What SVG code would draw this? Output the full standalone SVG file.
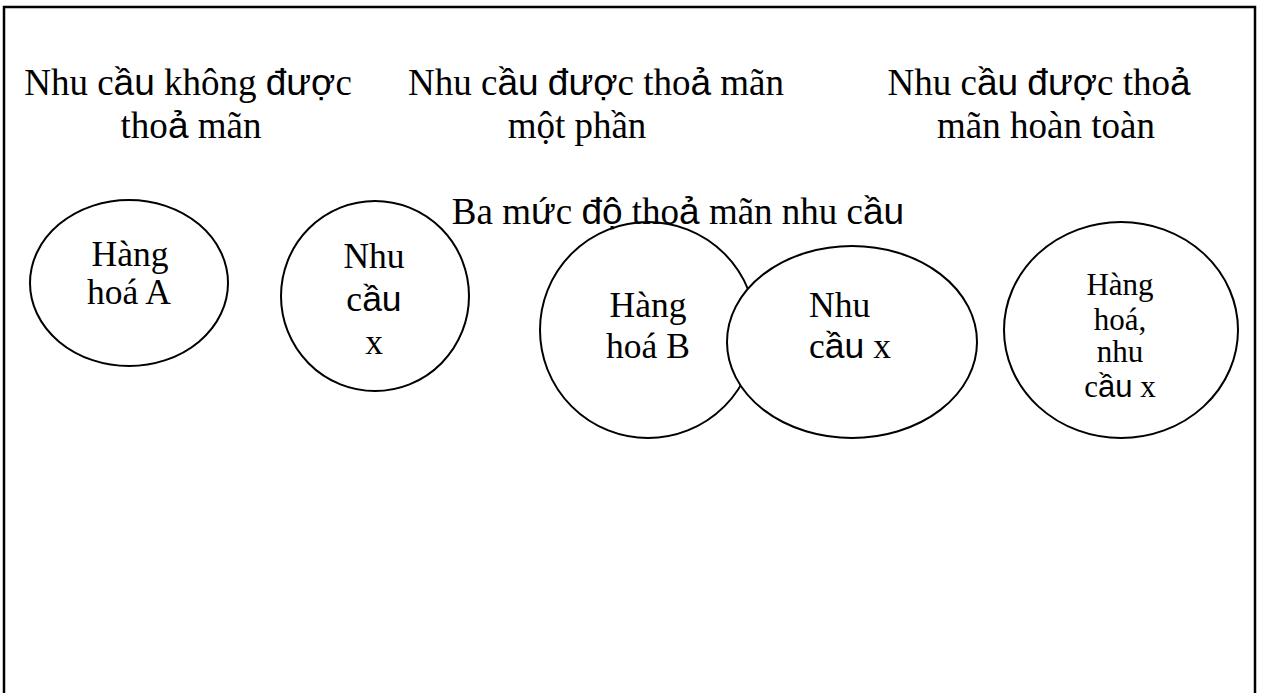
<svg xmlns="http://www.w3.org/2000/svg" width="1263" height="693" viewBox="0 0 1263 693">
<style>
text{font-family:"Liberation Serif","Times New Roman",serif;fill:#000}
.t{font-size:37px}
.c{font-size:35.5px}
.s{font-size:31px}
.sans{font-family:"Liberation Sans",Arial,sans-serif}
.e{fill:#fff;stroke:#000;stroke-width:2}
</style>
<rect x="4" y="7" width="1251" height="700" fill="#fff" stroke="#000" stroke-width="2.5"/>
<g id="title1">
<text x="188" y="95" text-anchor="middle" class="t">Nhu c<tspan class="sans">ầu</tspan> không <tspan class="sans">đượ</tspan>c</text>
<text x="191" y="138" text-anchor="middle" class="t">tho<tspan class="sans">ả</tspan> mãn</text>
</g>
<g id="title2">
<text x="596" y="95" text-anchor="middle" class="t">Nhu c<tspan class="sans">ầu</tspan> <tspan class="sans">đượ</tspan>c tho<tspan class="sans">ả</tspan> mãn</text>
<text x="577" y="138" text-anchor="middle" class="t">một phần</text>
</g>
<g id="title3">
<text x="1039" y="95" text-anchor="middle" class="t">Nhu c<tspan class="sans">ầu</tspan> <tspan class="sans">đượ</tspan>c tho<tspan class="sans">ả</tspan></text>
<text x="1046" y="138" text-anchor="middle" class="t">mãn hoàn toàn</text>
</g>
<g id="nodeA">
<ellipse class="e" cx="129" cy="283" rx="99" ry="83"/>
<text x="130" y="266" text-anchor="middle" class="c">Hàng</text>
<text x="129" y="304" text-anchor="middle" class="c">hoá A</text>
</g>
<g id="nodeX1">
<ellipse class="e" cx="375" cy="296" rx="94" ry="95"/>
<text x="374" y="268" text-anchor="middle" class="c">Nhu</text>
<text x="374" y="311" text-anchor="middle" class="c">c<tspan class="sans">ầu</tspan></text>
<text x="374" y="354" text-anchor="middle" class="c">x</text>
</g>
<g id="nodeB">
<ellipse class="e" cx="648" cy="330" rx="108" ry="108"/>
<text x="648" y="317" text-anchor="middle" class="c">Hàng</text>
<text x="648" y="358" text-anchor="middle" class="c">hoá B</text>
</g>
<g id="nodeX2">
<ellipse class="e" cx="852" cy="342" rx="125" ry="96"/>
<text x="809" y="317" class="c">Nhu</text>
<text x="809" y="358" class="c">c<tspan class="sans">ầu</tspan> x</text>
</g>
<g id="nodeBX">
<ellipse class="e" cx="1121" cy="330" rx="117" ry="108"/>
<text x="1120" y="295" text-anchor="middle" class="s">Hàng</text>
<text x="1120" y="330" text-anchor="middle" class="s">hoá,</text>
<text x="1120" y="362" text-anchor="middle" class="s">nhu</text>
<text x="1120" y="397" text-anchor="middle" class="s">c<tspan class="sans">ầu</tspan> x</text>
</g>
<g id="caption">
<text x="678" y="224" text-anchor="middle" class="t">Ba m<tspan class="sans">ứ</tspan>c <tspan class="sans">độ</tspan> tho<tspan class="sans">ả</tspan> mãn nhu c<tspan class="sans">ầu</tspan></text>
</g>
<g id="connectors"></g>
</svg>
